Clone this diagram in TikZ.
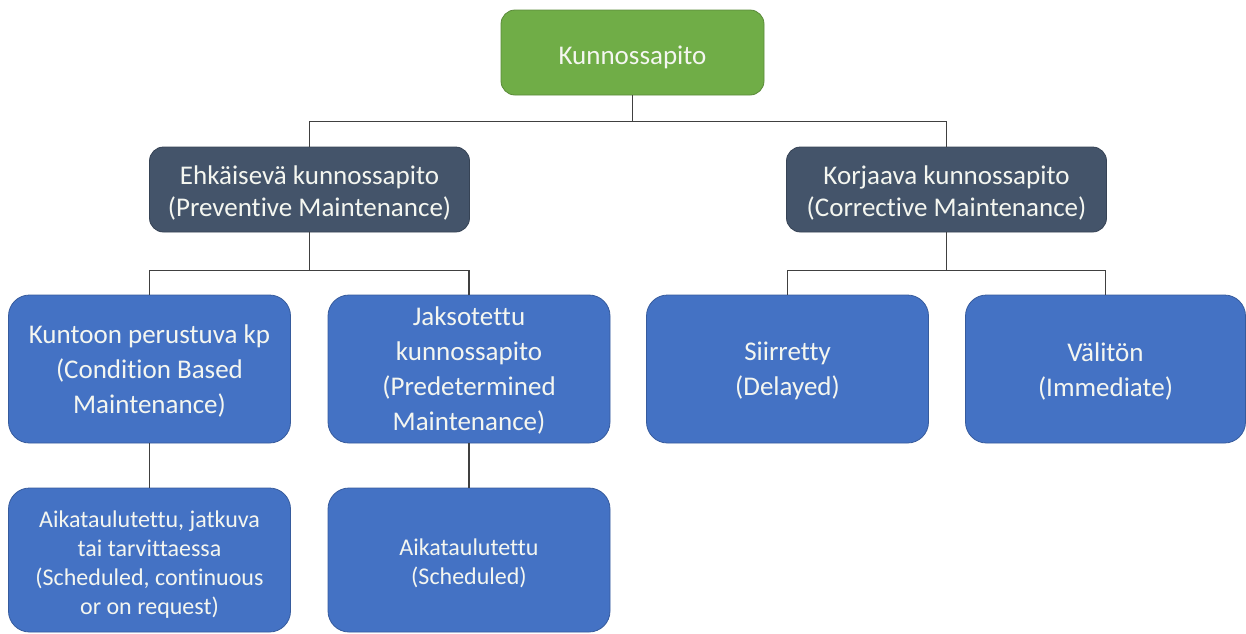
\documentclass[tikz,border=0pt]{standalone}
\usepackage{fontspec}
\setmainfont{Carlito}[Ligatures=NoCommon]
\definecolor{kgreen}{HTML}{70AD47}
\definecolor{kdark}{HTML}{44546A}
\definecolor{kblue}{HTML}{4472C4}
\definecolor{kline}{HTML}{404040}
\definecolor{ktext}{HTML}{F4F6F0}
\begin{document}
\begin{tikzpicture}[x=1pt,y=-1pt,
  box/.style={rectangle, rounded corners=14pt, inner sep=0pt, line width=0.8pt},
  greenbox/.style={box, fill=kgreen, draw=kgreen!80!black, minimum width=263pt, minimum height=85pt},
  darkbox/.style={box, fill=kdark, draw=kdark!80!black, minimum width=320pt, minimum height=85pt},
  bluebox/.style={box, fill=kblue, draw=kblue!80!black, minimum width=282pt, minimum height=148pt, rounded corners=21pt},
  lowbox/.style={bluebox, minimum height=144pt},
  txt/.style={align=center, text=ktext, inner sep=0pt, font=\fontsize{27}{35}\selectfont},
  txttwo/.style={txt, font=\fontsize{27}{32}\selectfont},
  txtlow/.style={txt, font=\fontsize{24}{29}\selectfont},
  conn/.style={draw=kline, line width=1.1pt}]
\useasboundingbox (0,0) rectangle (1246,633);
\node[greenbox] (top) at (632.5,52.5) {};
\node[darkbox] (ehk) at (309.5,189.5) {};
\node[darkbox] (kor) at (946.5,189.5) {};
\node[bluebox] (kun) at (149.5,369) {};
\node[bluebox] (jak) at (469,369) {};
\node[bluebox] (sii) at (787.5,369) {};
\node[bluebox, minimum width=280pt] (val) at (1105.5,369) {};
\node[lowbox] (aik1) at (149.5,560) {};
\node[lowbox] (aik2) at (469,560) {};
\node[txt] (topt) at ([yshift=-5pt]top.center) {Kunnossapito};
\node[txttwo] (ehkt) at ([yshift=-3pt]ehk.center) {Ehkäisevä kunnossapito\\(Preventive Maintenance)};
\node[txttwo] (kort) at ([yshift=-3pt]kor.center) {Korjaava kunnossapito\\(Corrective Maintenance)};
\node[txt] (kunt) at ([yshift=-2pt]kun.center) {Kuntoon perustuva kp\\(Condition Based\\Maintenance)};
\node[txt] (jakt) at ([yshift=-1pt]jak.center) {Jaksotettu\\kunnossapito\\(Predetermined\\Maintenance)};
\node[txt] (siit) at ([yshift=-2pt]sii.center) {Siirretty\\(Delayed)};
\node[txt] (valt) at ([yshift=-2pt]val.center) {Välitön\\(Immediate)};
\node[txtlow] (aik1t) at ([yshift=-5pt]aik1.center) {Aikataulutettu, jatkuva\\tai tarvittaessa\\(Scheduled, continuous\\or on request)};
\node[txtlow] (aik2t) at ([yshift=-3pt]aik2.center) {Aikataulutettu\\(Scheduled)};
\draw[conn] (top.south) -- ++(0,26) coordinate (h1);
\draw[conn] (ehk.north) |- (h1) -| (kor.north);
\draw[conn] (ehk.south) -- ++(0,38) coordinate (h2);
\draw[conn] (kun.north) |- (h2) -| (jak.north);
\draw[conn] (kor.south) -- ++(0,38) coordinate (h3);
\draw[conn] (sii.north) |- (h3) -| (val.north);
\draw[conn] (kun.south) -- (aik1.north);
\draw[conn] (jak.south) -- (aik2.north);
\end{tikzpicture}
\end{document}
